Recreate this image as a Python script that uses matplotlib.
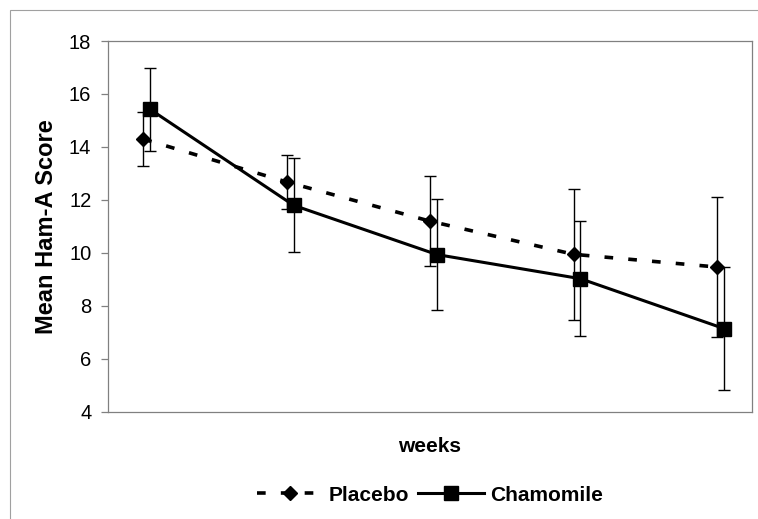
import matplotlib.pyplot as plt
from matplotlib.patches import Rectangle

plt.rcParams['font.family'] = ['Liberation Sans', 'DejaVu Sans']

weeks = [1, 2, 3, 4, 5]
placebo_mean = [14.3, 12.68, 11.2, 9.95, 9.47]
placebo_err = [1.03, 1.03, 1.7, 2.47, 2.65]
chamomile_mean = [15.42, 11.8, 9.94, 9.03, 7.15]
chamomile_err = [1.56, 1.78, 2.1, 2.17, 2.33]

fig = plt.figure(figsize=(7.58, 5.19), dpi=100)
ax = fig.add_axes([0.1425, 0.2062, 0.8495, 0.7148])

# outer chart border, like the spreadsheet chart area
fig.patches.append(Rectangle((10 / 758, -0.1), 1.2, 1 - 10 / 519 + 0.1,
                             transform=fig.transFigure, fill=False,
                             edgecolor='#a0a0a0', lw=0.8))

off = 0.024
xp = [w - off for w in weeks]
xc = [w + off for w in weeks]

ax.errorbar(xp, placebo_mean, yerr=placebo_err, fmt='none', ecolor='black',
            elinewidth=1.0, capsize=4.5, capthick=1.0, zorder=2)
ax.errorbar(xc, chamomile_mean, yerr=chamomile_err, fmt='none', ecolor='black',
            elinewidth=1.0, capsize=4.5, capthick=1.0, zorder=2)

ax.plot(xp, placebo_mean, color='black', lw=2.6, dashes=(2.4, 4.2),
        marker='D', markersize=7.5, label='Placebo', zorder=3)
ax.plot(xc, chamomile_mean, color='black', lw=2.2, marker='s',
        markersize=10, label='Chamomile', zorder=3)

ax.set_xlim(0.73, 5.22)
ax.set_ylim(4, 18)
ax.set_yticks(range(4, 19, 2))
ax.set_xticks([])
for s in ax.spines.values():
    s.set_color('#808080')
    s.set_linewidth(0.9)
ax.tick_params(axis='y', colors='#808080', labelcolor='black', labelsize=14.5,
               length=5, width=0.9, pad=7)

ax.set_ylabel('Mean Ham-A Score', fontsize=17, fontweight='bold', labelpad=8)
ax.set_xlabel('weeks', fontsize=15, fontweight='bold', labelpad=18)

fig.legend(loc='center', bbox_to_anchor=(0.567, 0.046), ncol=2, frameon=False,
           prop={'size': 15, 'weight': 'bold'}, handlelength=3.2,
           handletextpad=0.25, columnspacing=0.4)

fig.savefig('out.png', dpi=100)
